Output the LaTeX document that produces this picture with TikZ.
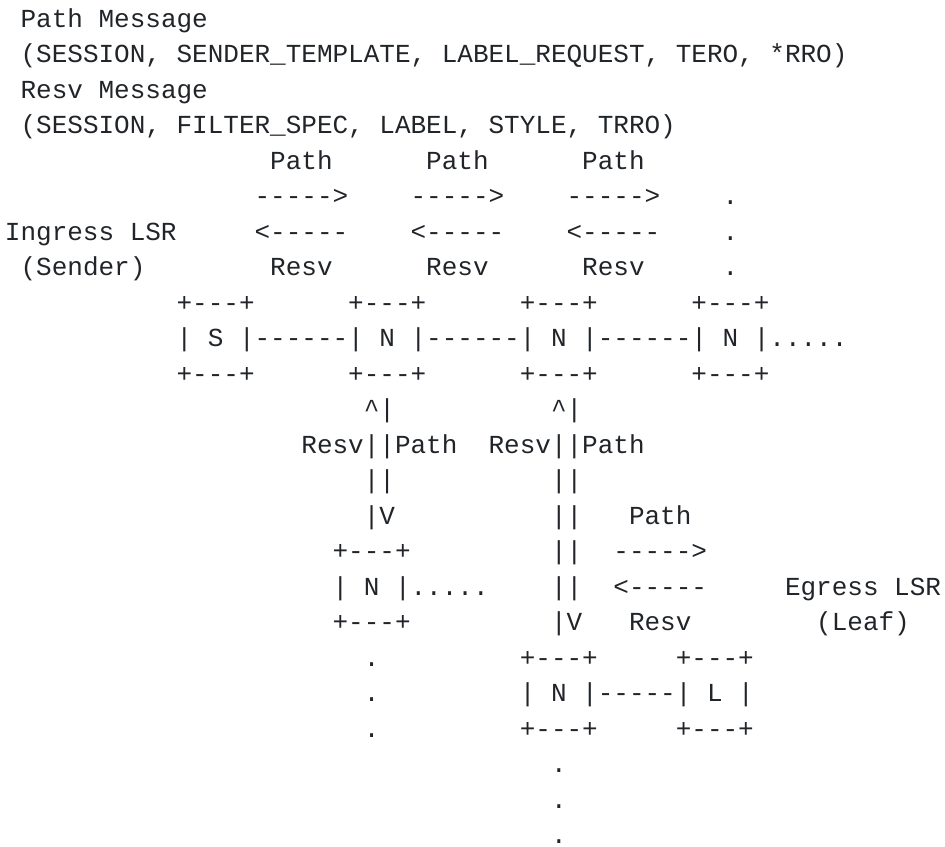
\documentclass[tikz,border=0pt]{standalone}
\usepackage{fontspec}
\setmonofont{Liberation Mono}
\definecolor{ink}{RGB}{33,37,41}
\begin{document}
% one unit in x = one character cell, one unit in y = one text line
\begin{tikzpicture}[x=15.6pt,y=-35.5pt,
  t/.style={anchor=base west,inner sep=0pt,outer sep=0pt,text=ink,
            font=\ttfamily\fontsize{26}{35.5}\selectfont}]
\useasboundingbox (-5pt,27pt) rectangle (940pt,-819pt);
% message legend
\node[t] (pathmsg)  at (1,0) {Path Message};
\node[t] (pathobjs) at (1,1) {(SESSION, SENDER\_TEMPLATE, LABEL\_REQUEST, TERO, *RRO)};
\node[t] (resvmsg)  at (1,2) {Resv Message};
\node[t] (resvobjs) at (1,3) {(SESSION, FILTER\_SPEC, LABEL, STYLE, TRRO)};
% upper message flow
\node[t] (pa) at (17,4) {Path};
\node[t] (pb) at (27,4) {Path};
\node[t] (pc) at (37,4) {Path};
\node[t] (fa) at (16,5) {----->};
\node[t] (fb) at (26,5) {----->};
\node[t] (fc) at (36,5) {----->};
\node[t] (da) at (46,5) {.};
\node[t] (ingress) at (0,6) {Ingress LSR};
\node[t] (ba) at (16,6) {<-----};
\node[t] (bb) at (26,6) {<-----};
\node[t] (bc) at (36,6) {<-----};
\node[t] (db) at (46,6) {.};
\node[t] (sender) at (1,7) {(Sender)};
\node[t] (ra) at (17,7) {Resv};
\node[t] (rb) at (27,7) {Resv};
\node[t] (rc) at (37,7) {Resv};
\node[t] (dc) at (46,7) {.};
% top row of LSRs
\node[t] (s1) at (11,8) {+---+};
\node[t] (n1t) at (22,8) {+---+};
\node[t] (n2t) at (33,8) {+---+};
\node[t] (n3t) at (44,8) {+---+};
\node[t] (s) at (11,9) {| S |};
\node[t] (l1) at (16,9) {------};
\node[t] (n1) at (22,9) {| N |};
\node[t] (l2) at (27,9) {------};
\node[t] (n2) at (33,9) {| N |};
\node[t] (l3) at (38,9) {------};
\node[t] (n3) at (44,9) {| N |};
\node[t] (n3dots) at (49,9) {.....};
\node[t] (s2) at (11,10) {+---+};
\node[t] (n1b) at (22,10) {+---+};
\node[t] (n2b) at (33,10) {+---+};
\node[t] (n3b) at (44,10) {+---+};
% branches going down
\node[t] (ua) at (23,11) {\textasciicircum|};
\node[t] (ub) at (35,11) {\textasciicircum|};
\node[t] (rpa) at (19,12) {Resv||Path};
\node[t] (rpb) at (31,12) {Resv||Path};
\node[t] (va1) at (23,13) {||};
\node[t] (vb1) at (35,13) {||};
\node[t] (va2) at (23,14) {|V};
\node[t] (vb2) at (35,14) {||};
\node[t] (pd) at (40,14) {Path};
\node[t] (n4t) at (21,15) {+---+};
\node[t] (vb3) at (35,15) {||};
\node[t] (fd) at (39,15) {----->};
\node[t] (n4) at (21,16) {| N |};
\node[t] (n4dots) at (26,16) {.....};
\node[t] (vb4) at (35,16) {||};
\node[t] (bd) at (39,16) {<-----};
\node[t] (egress) at (50,16) {Egress LSR};
\node[t] (n4b) at (21,17) {+---+};
\node[t] (vb5) at (35,17) {|V};
\node[t] (rd) at (40,17) {Resv};
\node[t] (leaf) at (52,17) {(Leaf)};
% bottom row
\node[t] (ea) at (23,18) {.};
\node[t] (n5t) at (33,18) {+---+};
\node[t] (lt) at (43,18) {+---+};
\node[t] (eb) at (23,19) {.};
\node[t] (n5) at (33,19) {| N |};
\node[t] (l4) at (38,19) {-----};
\node[t] (lf) at (43,19) {| L |};
\node[t] (ec) at (23,20) {.};
\node[t] (n5b) at (33,20) {+---+};
\node[t] (lb) at (43,20) {+---+};
\node[t] (ga) at (35,21) {.};
\node[t] (gb) at (35,22) {.};
\node[t] (gc) at (35,23) {.};
\end{tikzpicture}
\end{document}
